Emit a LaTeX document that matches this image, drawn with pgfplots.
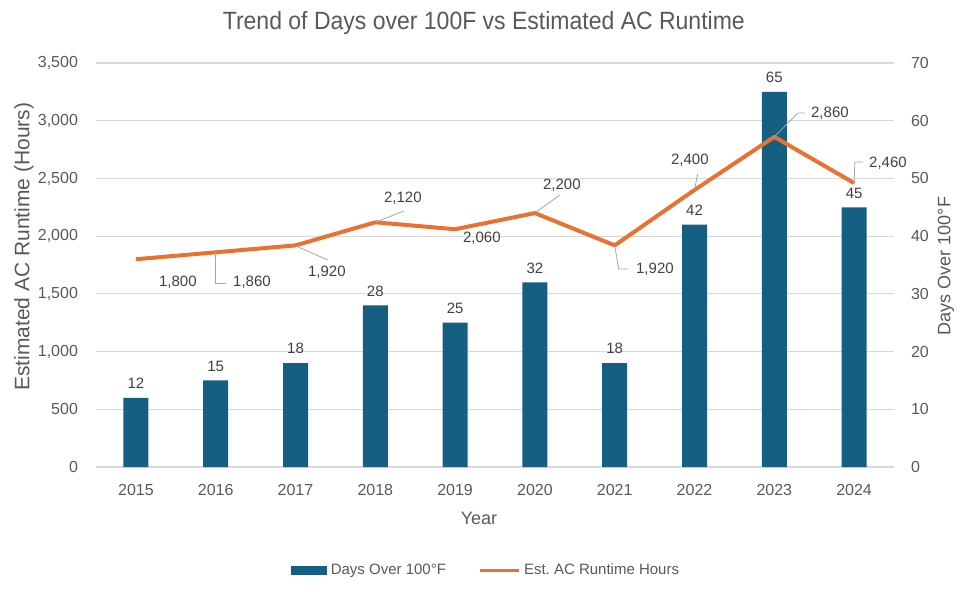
\documentclass[border=0pt]{standalone}
\usepackage{pgfplots}
\pgfplotsset{compat=1.18}
\usepackage{pgfplotstable}
\usepackage{fontspec}
\setmainfont{Liberation Sans}
\usetikzlibrary{calc}

\definecolor{barblue}{HTML}{156082}
\definecolor{lineorange}{HTML}{E97132}
\definecolor{txt}{HTML}{595959}
\definecolor{lbl}{HTML}{404040}
\definecolor{gridc}{HTML}{D9D9D9}
\definecolor{leader}{HTML}{A6A6A6}

\pgfplotstableread{
x year days hours
0 2015 12 1800
1 2016 15 1860
2 2017 18 1920
3 2018 28 2120
4 2019 25 2060
5 2020 32 2200
6 2021 18 1920
7 2022 42 2400
8 2023 65 2860
9 2024 45 2460
}\datatable

\begin{document}
\begin{tikzpicture}
\pgfplotsset{
  base/.style={
    scale only axis, width=399pt, height=202pt,
    xmin=-0.5, xmax=9.5, ymin=0,
    axis line style={draw=none}, major tick length=0pt,
    tick label style={font=\fontsize{8}{9}\selectfont, text=txt},
    /pgf/number format/assume math mode=true,
    /pgf/number format/1000 sep={,},
    clip=false,
  }
}
% bars: days over 100F (right axis)
\begin{axis}[base, name=ax,
  ymax=70, ytick={0,10,...,70}, yticklabel pos=right,
  yticklabel style={xshift=5pt},
  ymajorgrids, grid style={gridc, line width=0.6pt},
  xtick={0,...,9},
  xticklabels={2015,2016,2017,2018,2019,2020,2021,2022,2023,2024},
  xticklabel style={yshift=-5pt},
  ybar, bar width=12.5pt,
  nodes near coords,
  nodes near coords style={font=\fontsize{7.5}{9}\selectfont, text=lbl, yshift=1pt},
]
\addplot[fill=barblue, draw=none] table[x=x, y=days]{\datatable};
\end{axis}

% line: estimated AC runtime (left axis)
\begin{axis}[base,
  ymax=3500, ytick={0,500,...,3500},
  yticklabel style={xshift=-5.5pt},
  xtick=\empty,
  legend style={at={(0.49,-0.257)}, anchor=center, draw=none, fill=none,
    legend columns=2, font=\fontsize{7.5}{9}\selectfont, text=txt,
    /tikz/every even column/.append style={column sep=14pt}},
]
\addlegendimage{legend image code/.code={\fill[barblue] (0pt,-2pt) rectangle (17.5pt,2pt);}}
\addlegendentry{Days Over 100°F}
\addplot[lineorange, line width=2pt, line join=round,
  legend image code/.code={\draw[lineorange, line width=1.5pt] (0pt,0pt) -- (19.5pt,0pt);}]
  table[x=x, y=hours]{\datatable};
\addlegendentry{Est.\ AC Runtime Hours}

% leader lines
\draw[leader, line width=0.4pt] (axis cs:1,1860) -- (axis cs:1,1594) -- (axis cs:1.13,1594);
\draw[leader, line width=0.4pt] (axis cs:2.005,1915) -- (axis cs:2.406,1793);
\draw[leader, line width=0.4pt] (axis cs:3.008,2122) -- (axis cs:3.358,2218);
\draw[leader, line width=0.4pt] (axis cs:5,2200) -- (axis cs:5.31,2356);
\draw[leader, line width=0.4pt] (axis cs:6,1920) -- (axis cs:6.05,1715) -- (axis cs:6.17,1715);
\draw[leader, line width=0.4pt] (axis cs:7,2400) -- (axis cs:7.04,2538);
\draw[leader, line width=0.4pt] (axis cs:8,2860) -- (axis cs:8.296,3067) -- (axis cs:8.383,3067);
\draw[leader, line width=0.4pt] (axis cs:9,2460) -- (axis cs:9.01,2642) -- (axis cs:9.11,2642);

% data labels of the line
\begin{scope}[every node/.style={font=\fontsize{7.5}{9}\selectfont, text=lbl}]
\node at (axis cs:0.526,1603) {1,800};
\node at (axis cs:1.454,1603) {1,860};
\node at (axis cs:2.393,1689) {1,920};
\node at (axis cs:3.346,2330) {2,120};
\node at (axis cs:4.336,1984) {2,060};
\node at (axis cs:5.338,2443) {2,200};
\node at (axis cs:6.504,1715) {1,920};
\node at (axis cs:6.942,2660) {2,400};
\node at (axis cs:8.697,3067) {2,860};
\node at (axis cs:9.424,2634) {2,460};
\end{scope}

% titles
\node[font=\fontsize{12.5}{14}\selectfont, text=txt] at (rel axis cs:0.486,1.099)
  {\scalebox{0.92}[1]{Trend of Days over 100F vs Estimated AC Runtime}};
\node[font=\fontsize{10.5}{12}\selectfont, text=txt, rotate=90] at (rel axis cs:-0.0902,0.545)
  {Estimated AC Runtime (Hours)};
\node[font=\fontsize{9}{11}\selectfont, text=txt, rotate=90] at (rel axis cs:1.065,0.4975)
  {Days Over 100°F};
\node[font=\fontsize{9}{11}\selectfont, text=txt] at (rel axis cs:0.48,-0.126) {Year};
\end{axis}

\path ($(ax.south west)+(-48pt,-62pt)$) rectangle ++(488pt,295.5pt);
\end{tikzpicture}
\end{document}
